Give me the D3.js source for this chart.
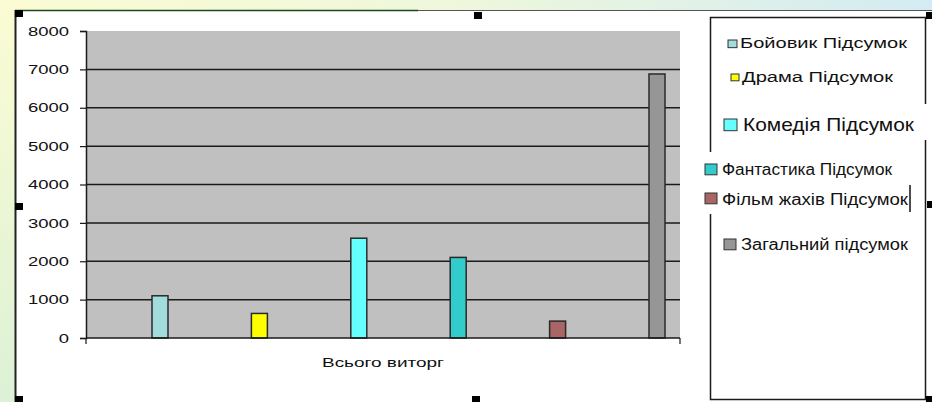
<!DOCTYPE html>
<html>
<head>
<meta charset="utf-8">
<script src="https://cdn.jsdelivr.net/npm/d3@7"></script>
<style>
  html, body { margin: 0; padding: 0; }
  body { width: 932px; height: 402px; overflow: hidden; }
  text { font-family: "Liberation Sans", Arial, sans-serif; fill: #111; }
</style>
</head>
<body>
<div id="chart"></div>
<script>
// --- DONNÉES ---
const categorie = "Всього виторг";
const series = ["Бойовик Підсумок", "Драма Підсумок", "Комедія Підсумок",
                "Фантастика Підсумок", "Фільм жахів Підсумок", "Загальний підсумок"];
const valeurs = [1100, 640, 2600, 2100, 440, 6880];
const couleurs = ["#a3dcdc", "#ffff00", "#66ffff", "#33cccc", "#aa6666", "#969696"];
const ticksY = [0, 1000, 2000, 3000, 4000, 5000, 6000, 7000, 8000];

// --- CONFIGURATION ---
const largeur = 932;
const hauteur = 402;
const plot = { gauche: 86, droite: 680, haut: 31, bas: 338 };

// légende : chaque ligne a été collée à la main, donc placement au cas par cas
const legendeLayout = [
  { x: 740, y: 48,  taille: 14, w: 167, sx: 728, sy: 40,  s: 9 },
  { x: 742, y: 82,  taille: 14, w: 151, sx: 731, sy: 74,  s: 8 },
  { x: 743, y: 131, taille: 18, w: 171, sx: 724, sy: 119, s: 13 },
  { x: 722, y: 175, taille: 16, w: 170, sx: 705, sy: 164, s: 12 },
  { x: 722, y: 205, taille: 16, w: 186, sx: 705, sy: 193, s: 12 },
  { x: 741, y: 250, taille: 16, w: 167, sx: 724, sy: 239, s: 12 }
];

const svg = d3.select("#chart").append("svg")
    .attr("width", largeur)
    .attr("height", hauteur);

// --- FOND DE LA DIAPO ---
const defs = svg.append("defs");
const grad = defs.append("linearGradient").attr("id", "fond")
    .attr("x1", "0").attr("y1", "0").attr("x2", "1").attr("y2", "0");
grad.append("stop").attr("offset", "0").attr("stop-color", "#fbfcd3");
grad.append("stop").attr("offset", "0.5").attr("stop-color", "#eef7dc");
grad.append("stop").attr("offset", "1").attr("stop-color", "#d3ebf3");
const gradV = defs.append("linearGradient").attr("id", "fondV")
    .attr("x1", "0").attr("y1", "0").attr("x2", "0").attr("y2", "1");
gradV.append("stop").attr("offset", "0").attr("stop-color", "#fbfcd3");
gradV.append("stop").attr("offset", "1").attr("stop-color", "#dcf1d6");

svg.append("rect").attr("width", largeur).attr("height", hauteur).attr("fill", "url(#fond)");
svg.append("rect").attr("width", 15).attr("height", hauteur).attr("fill", "url(#fondV)");

// zone blanche du graphique
svg.append("rect").attr("x", 15).attr("y", 10).attr("width", largeur - 15).attr("height", hauteur - 10)
    .attr("fill", "#ffffff");
svg.append("line").attr("x1", 15).attr("x2", 418).attr("y1", 10.5).attr("y2", 10.5)
    .attr("stroke", "#1f4a1f").attr("stroke-width", 1.5);
svg.append("line").attr("x1", 418).attr("x2", largeur).attr("y1", 10.5).attr("y2", 10.5)
    .attr("stroke", "#555").attr("stroke-width", 1);
svg.append("line").attr("x1", 15.5).attr("x2", 15.5).attr("y1", 10).attr("y2", hauteur)
    .attr("stroke", "#222").attr("stroke-width", 2);

// --- ÉCHELLES ---
const y = d3.scaleLinear().domain([0, 8000]).range([plot.bas, plot.haut]);
const x = d3.scalePoint().domain(series).range([plot.gauche + 74, plot.droite - 23]);
const largeurBarre = 16;

// zone de tracé grise
svg.append("rect")
    .attr("x", plot.gauche).attr("y", plot.haut)
    .attr("width", plot.droite - plot.gauche).attr("height", plot.bas - plot.haut)
    .attr("fill", "#c0c0c0");

// lignes de grille
svg.append("g")
    .selectAll("line")
    .data(ticksY.filter(d => d > 0 && d < 8000))
    .join("line")
    .attr("x1", plot.gauche).attr("x2", plot.droite)
    .attr("y1", d => y(d)).attr("y2", d => y(d))
    .attr("stroke", "#1a1a1a").attr("stroke-width", 1.5);

// --- BARRES ---
svg.append("g")
    .selectAll("rect")
    .data(valeurs)
    .join("rect")
    .attr("x", (d, i) => x(series[i]) - largeurBarre / 2)
    .attr("y", d => y(d))
    .attr("width", largeurBarre)
    .attr("height", d => y(0) - y(d))
    .attr("fill", (d, i) => couleurs[i])
    .attr("stroke", "#2a2a2a")
    .attr("stroke-width", 1.5);

// --- AXE Y ---
const axeY = svg.append("g")
    .attr("transform", `translate(${plot.gauche},0)`)
    .call(d3.axisLeft(y).tickValues(ticksY).tickSize(6).tickFormat(d3.format("d")));
axeY.select(".domain").attr("stroke", "#1a1a1a").attr("stroke-width", 1.5);
axeY.selectAll(".tick line").attr("stroke", "#1a1a1a").attr("stroke-width", 1.2);
axeY.selectAll(".tick text")
    .attr("x", 0)
    .attr("font-size", 13)
    .attr("font-family", "Liberation Sans, Arial, sans-serif")
    .attr("fill", "#111")
    .attr("transform", "translate(-17,0) scale(1.42,1)");

// --- AXE X ---
svg.append("line")
    .attr("x1", plot.gauche).attr("x2", plot.droite)
    .attr("y1", y(0)).attr("y2", y(0))
    .attr("stroke", "#1a1a1a").attr("stroke-width", 1.5);
svg.append("g")
    .selectAll("line")
    .data([plot.gauche, plot.droite])
    .join("line")
    .attr("x1", d => d).attr("x2", d => d)
    .attr("y1", y(0)).attr("y2", y(0) + 6)
    .attr("stroke", "#1a1a1a").attr("stroke-width", 1.2);
svg.append("text")
    .attr("x", (plot.gauche + plot.droite) / 2 - 61)
    .attr("y", 367)
    .attr("font-size", 13)
    .attr("textLength", 122)
    .attr("lengthAdjust", "spacingAndGlyphs")
    .text(categorie);

// --- LÉGENDE ---
const leg = svg.append("g");
leg.append("rect")
    .attr("x", 710.5).attr("y", 17.5).attr("width", 215).attr("height", 382)
    .attr("fill", "#ffffff").attr("stroke", "#1a1a1a").attr("stroke-width", 1.5);
// morceaux blancs collés par-dessus
leg.append("rect").attr("x", 715).attr("y", 104).attr("width", 214).attr("height", 36).attr("fill", "#ffffff");
leg.append("rect").attr("x", 700).attr("y", 152).attr("width", 208).attr("height", 62).attr("fill", "#ffffff");
// petit curseur
leg.append("line").attr("x1", 910).attr("x2", 910).attr("y1", 185).attr("y2", 212)
    .attr("stroke", "#111").attr("stroke-width", 1.5);

leg.selectAll("rect.swatch")
    .data(series)
    .join("rect")
    .attr("class", "swatch")
    .attr("x", (d, i) => legendeLayout[i].sx)
    .attr("y", (d, i) => legendeLayout[i].sy)
    .attr("width", (d, i) => legendeLayout[i].s)
    .attr("height", (d, i) => legendeLayout[i].s * (i < 2 ? 0.85 : 0.9))
    .attr("fill", (d, i) => couleurs[i])
    .attr("stroke", "#333")
    .attr("stroke-width", 1);

leg.selectAll("text")
    .data(series)
    .join("text")
    .attr("x", (d, i) => legendeLayout[i].x)
    .attr("y", (d, i) => legendeLayout[i].y)
    .attr("font-size", (d, i) => legendeLayout[i].taille)
    .attr("textLength", (d, i) => legendeLayout[i].w)
    .attr("lengthAdjust", "spacingAndGlyphs")
    .text(d => d);

// --- POIGNÉES DE SÉLECTION ---
const poignees = [[15, 10], [474, 12], [15, 203], [15, 396], [472, 396], [926, 12], [927, 201], [926, 396]];
svg.append("g")
    .selectAll("rect")
    .data(poignees)
    .join("rect")
    .attr("x", d => d[0]).attr("y", d => d[1])
    .attr("width", 8).attr("height", 7)
    .attr("fill", "#000");
</script>
</body>
</html>
